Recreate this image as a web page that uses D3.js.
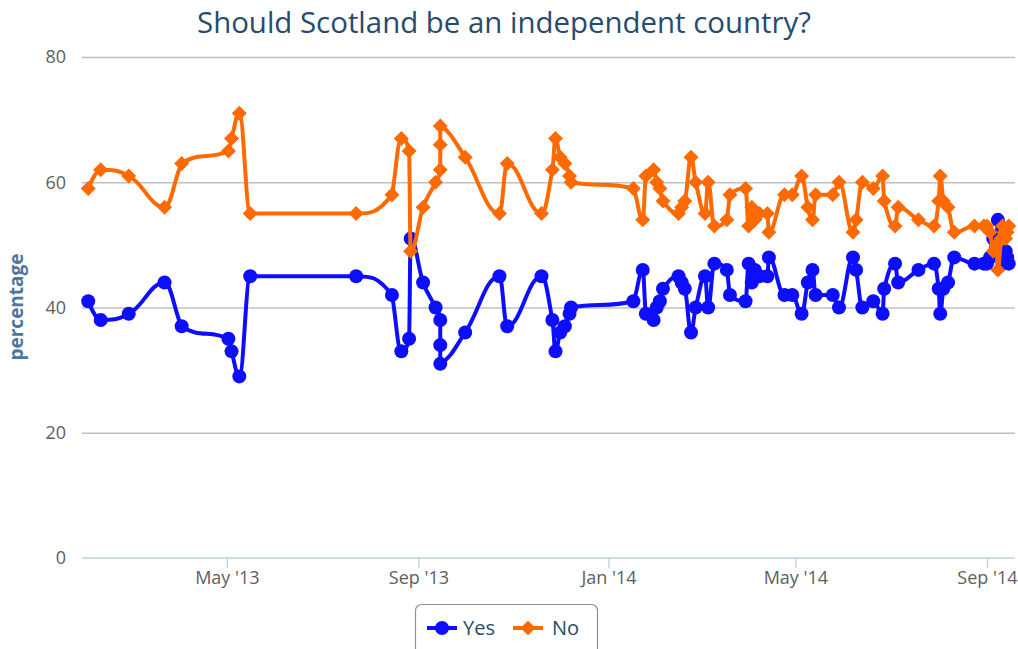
<!DOCTYPE html>
<html><head><meta charset="utf-8">
<script src="https://cdn.jsdelivr.net/npm/d3@7"></script>
<style>body{margin:0;background:#fff}svg{display:block}</style>
</head><body>
<svg id="c" width="1018" height="649"></svg>
<script>
const dates = ["2013-02-01","2013-02-09","2013-02-27","2013-03-22","2013-04-02","2013-05-02","2013-05-04","2013-05-09","2013-05-16","2013-07-23",
"2013-08-15","2013-08-21","2013-08-26","2013-08-27","2013-09-04","2013-09-12","2013-09-15","2013-09-15","2013-09-15","2013-10-01",
"2013-10-23","2013-10-28","2013-11-19","2013-11-26","2013-11-28","2013-12-01","2013-12-04","2013-12-07","2013-12-08","2014-01-17",
"2014-01-23","2014-01-25","2014-01-30","2014-02-01","2014-02-03","2014-02-05","2014-02-15","2014-02-17","2014-02-19","2014-02-23",
"2014-02-26","2014-03-04","2014-03-06","2014-03-10","2014-03-18","2014-03-20","2014-03-30","2014-04-01","2014-04-03","2014-04-05",
"2014-04-08","2014-04-13","2014-04-14","2014-04-24","2014-04-29","2014-05-05","2014-05-09","2014-05-12","2014-05-14","2014-05-25",
"2014-05-29","2014-06-07","2014-06-09","2014-06-13","2014-06-20","2014-06-26","2014-06-27","2014-07-04","2014-07-06","2014-07-19",
"2014-07-29","2014-08-01","2014-08-02","2014-08-04","2014-08-07","2014-08-11","2014-08-24","2014-08-30","2014-09-01","2014-09-03",
"2014-09-05","2014-09-07","2014-09-08","2014-09-10","2014-09-11","2014-09-12","2014-09-13","2014-09-14","2014-09-15"];
const yesValues = [41,38,39,44,37,35,33,29,45,45,
42,33,35,51,44,40,38,34,31,36,
45,37,45,38,33,36,37,39,40,41,
46,39,38,40,41,43,45,44,43,36,
40,45,40,47,46,42,41,47,44,46,
45,45,48,42,42,39,44,46,42,42,
40,48,46,40,41,39,43,47,44,46,
47,43,39,43,44,48,47,47,47,48,
51,50,54,49,47,48,49,48,47];
const noValues = [59,62,61,56,63,65,67,71,55,55,
58,67,65,49,56,60,62,66,69,64,
55,63,55,62,67,64,63,61,60,59,
54,61,62,60,59,57,55,56,57,64,
60,55,60,53,54,58,59,53,56,54,
55,55,52,58,58,61,56,54,58,58,
60,52,54,60,59,61,57,53,56,54,
53,57,61,57,56,52,53,53,53,52,
49,50,46,51,53,52,51,52,53];
const seriesNames = ["Yes","No"];
const seriesColors = ["#0d0dff","#ff6a00"];
const yTicks = [0,20,40,60,80];
const xTickDates = ["2013-05-01","2013-09-01","2014-01-01","2014-05-01","2014-09-01"];
const xDomain = ["2013-01-28","2014-09-19"];
const titleText = "Should Scotland be an independent country?";
const yAxisTitle = "percentage";

const parse = d3.utcParse("%Y-%m-%d");
const svg = d3.select("#c");
const L = 82, R = 1015, T = 57, B = 558;
const x = d3.scaleUtc().domain(xDomain.map(parse)).range([L, R]);
const y = d3.scaleLinear().domain([0, 80]).range([B, T]);
const font = "'Open Sans', 'DejaVu Sans', sans-serif";

// title
svg.append("text").attr("x", 504).attr("y", 33).attr("text-anchor", "middle")
  .attr("font-family", font).attr("font-size", 29).attr("fill", "#274b6d")
  .attr("textLength", 614).attr("lengthAdjust", "spacingAndGlyphs").text(titleText);

// grid
const yAxis = d3.axisLeft(y).tickValues(yTicks).tickSize(-(R - L)).tickFormat(d3.format("d"));
const gy = svg.append("g").attr("transform", `translate(${L},0)`).call(yAxis);
gy.select(".domain").remove();
gy.selectAll(".tick line").attr("stroke", d => d === 0 ? "none" : "#c0c0c0").attr("stroke-width", 1.3);
gy.selectAll(".tick text").attr("x", -16).attr("font-family", font).attr("font-size", 18)
  .attr("fill", "#606060").attr("dy", "0.32em");

// x axis
const xAxis = d3.axisBottom(x).tickValues(xTickDates.map(parse)).tickSize(10).tickFormat(d3.utcFormat("%b '%y"));
const gx = svg.append("g").attr("transform", `translate(0,${B})`).call(xAxis);
gx.select(".domain").attr("stroke", "#c0d0e0").attr("stroke-width", 1.5).attr("d", `M${L},0H${R}`);
gx.selectAll(".tick line").attr("stroke", "#c0d0e0").attr("stroke-width", 1.3);
gx.selectAll(".tick text").attr("y", 13).attr("font-family", font).attr("font-size", 18)
  .attr("fill", "#606060").attr("dy", "0.71em");

// y axis title
svg.append("text").attr("transform", "translate(23,307) rotate(-90)").attr("text-anchor", "middle")
  .attr("font-family", font).attr("font-size", 19).attr("font-weight", "bold").attr("fill", "#4d759e")
  .text(yAxisTitle);

// Highcharts-like spline
function splinePath(pts) {
  const sm = 1.5, den = sm + 1;
  let d = "";
  let prevRX = null, prevRY = null;
  for (let i = 0; i < pts.length; i++) {
    const [px, py] = pts[i];
    let lcx = null, lcy = null, rcx = null, rcy = null;
    if (i > 0 && i < pts.length - 1) {
      const [lx, ly] = pts[i - 1], [nx, ny] = pts[i + 1];
      lcx = (sm * px + lx) / den; lcy = (sm * py + ly) / den;
      rcx = (sm * px + nx) / den; rcy = (sm * py + ny) / den;
      if (rcx - lcx !== 0) {
        const corr = ((rcy - lcy) * (rcx - px)) / (rcx - lcx) + py - rcy;
        lcy += corr; rcy += corr;
      }
      if (lcy > ly && lcy > py) { lcy = Math.max(ly, py); rcy = 2 * py - lcy; }
      else if (lcy < ly && lcy < py) { lcy = Math.min(ly, py); rcy = 2 * py - lcy; }
      if (rcy > ny && rcy > py) { rcy = Math.max(ny, py); lcy = 2 * py - rcy; }
      else if (rcy < ny && rcy < py) { rcy = Math.min(ny, py); lcy = 2 * py - rcy; }
    }
    if (i === 0) d += `M${px},${py}`;
    else d += `C${prevRX ?? pts[i-1][0]},${prevRY ?? pts[i-1][1]},${lcx ?? px},${lcy ?? py},${px},${py}`;
    prevRX = rcx; prevRY = rcy;
  }
  return d;
}

const series = [yesValues, noValues];
const plot = svg.append("g");
series.forEach((vals, si) => {
  const pts = dates.map((dt, i) => [x(parse(dt)), y(vals[i])]);
  const g = plot.append("g");
  g.append("path").attr("d", splinePath(pts)).attr("fill", "none")
    .attr("stroke", seriesColors[si]).attr("stroke-width", 4).attr("stroke-linejoin", "round");
  if (si === 0) {
    g.selectAll("circle").data(pts).join("circle").attr("cx", d => d[0]).attr("cy", d => d[1])
      .attr("r", 7).attr("fill", seriesColors[si]);
  } else {
    const r = 7.5;
    g.selectAll("path.m").data(pts).join("path").attr("class", "m")
      .attr("d", d => `M${d[0]},${d[1]-r}L${d[0]+r},${d[1]}L${d[0]},${d[1]+r}L${d[0]-r},${d[1]}Z`)
      .attr("fill", seriesColors[si]);
  }
});

// legend
const lg = svg.append("g");
lg.append("rect").attr("x", 415.5).attr("y", 604.5).attr("width", 182).attr("height", 60).attr("rx", 6)
  .attr("fill", "#fff").attr("stroke", "#909090").attr("stroke-width", 1.2);
const items = [{x: 427, tx: 463}, {x: 513, tx: 552}];
seriesNames.forEach((n, i) => {
  const it = items[i], cy = 628;
  lg.append("line").attr("x1", it.x).attr("x2", it.x + 30).attr("y1", cy).attr("y2", cy)
    .attr("stroke", seriesColors[i]).attr("stroke-width", 4);
  const cx = it.x + 15;
  if (i === 0) lg.append("circle").attr("cx", cx).attr("cy", cy).attr("r", 7).attr("fill", seriesColors[i]);
  else lg.append("path").attr("d", `M${cx},${cy-7.5}L${cx+7.5},${cy}L${cx},${cy+7.5}L${cx-7.5},${cy}Z`).attr("fill", seriesColors[i]);
  lg.append("text").attr("x", it.tx).attr("y", cy).attr("dy", "0.35em").attr("font-family", font)
    .attr("font-size", 20).attr("fill", "#274b6d").text(n);
});
</script>
</body></html>
